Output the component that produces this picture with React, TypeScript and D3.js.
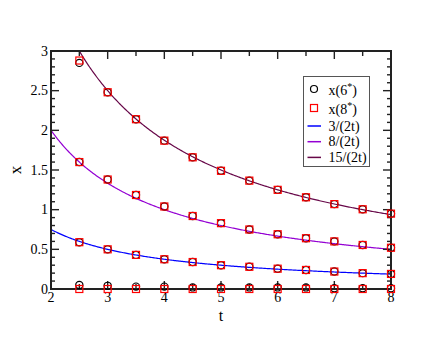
import React from 'react';
import * as d3 from 'd3';

// canvas
const width = 440;
const height = 340;

// plot frame
const left = 51;
const right = 391;
const top = 51;
const bottom = 289;

// data
const tValues = [2.5, 3, 3.5, 4, 4.5, 5, 5.5, 6, 6.5, 7, 7.5, 8];
const circZero = [0.05, 0.04, 0.03, 0.03, 0.02, 0.02, 0.02, 0.02, 0.02, 0.01, 0.01, 0.01];
const circLow = [0.59, 0.5, 0.43, 0.375, 0.34, 0.3, 0.28, 0.256, 0.24, 0.22, 0.2, 0.19];
const circMid = [1.6, 1.38, 1.185, 1.04, 0.92, 0.83, 0.75, 0.69, 0.64, 0.6, 0.555, 0.52];
const circHigh = [2.85, 2.48, 2.14, 1.87, 1.66, 1.49, 1.366, 1.25, 1.156, 1.07, 1.005, 0.95];
const sqZero = [0, 0, 0, 0, 0, 0, 0, 0, 0, 0, 0, 0];
const sqLow = [0.59, 0.5, 0.43, 0.375, 0.34, 0.3, 0.28, 0.256, 0.24, 0.22, 0.2, 0.19];
const sqMid = [1.6, 1.38, 1.185, 1.04, 0.92, 0.83, 0.75, 0.69, 0.64, 0.6, 0.555, 0.52];
const sqHigh = [2.88, 2.48, 2.14, 1.87, 1.66, 1.49, 1.366, 1.25, 1.156, 1.07, 1.005, 0.95];

// curves a/(2t)
const curveNumerators = [3, 8, 15];
const curveLabels = ['3/(2t)', '8/(2t)', '15/(2t)'];
const curveColors = ['#0000ff', '#9400d3', '#670748'];

const xTicks = [2, 3, 4, 5, 6, 7, 8];
const yTicks = [0, 0.5, 1, 1.5, 2, 2.5, 3];
const yTickLabels = ['0', '0.5', '1', '1.5', '2', '2.5', '3'];

const xScale = d3.scaleLinear().domain([2, 8]).range([left, right]);
const yScale = d3.scaleLinear().domain([0, 3]).range([bottom, top]);

const font = "'Times New Roman', 'Liberation Serif', serif";

const curveT = d3.range(2, 8.001, 0.02);
const lineGen = d3
  .line<number[]>()
  .x((d) => xScale(d[0]))
  .y((d) => yScale(d[1]));

const xMinor = d3.range(2, 8.001, 0.5);
const yMinor = d3.range(0, 3.001, 0.1);

const circleSeries = [circZero, circLow, circMid, circHigh];
const squareSeries = [sqZero, sqLow, sqMid, sqHigh];

const App = () => (
  <svg
    width={width}
    height={height}
    style={{ position: 'absolute', left: 0, top: 0, background: 'white' }}
  >
    <defs>
      <clipPath id="plotClip">
        <rect x={left} y={top} width={right - left} height={bottom - top} />
      </clipPath>
    </defs>

    {/* curves */}
    <g clipPath="url(#plotClip)">
      {curveNumerators.map((a, i) => (
        <path
          key={a}
          d={lineGen(curveT.map((t) => [t, a / (2 * t)])) || ''}
          fill="none"
          stroke={curveColors[i]}
          strokeWidth={1.2}
        />
      ))}
    </g>

    {/* frame */}
    <rect
      x={left}
      y={top}
      width={right - left}
      height={bottom - top}
      fill="none"
      stroke="#222"
      strokeWidth={2}
    />

    {/* x ticks */}
    {xMinor.map((t) => {
      const major = Number.isInteger(t);
      const len = major ? 8 : 5;
      return (
        <g key={'xt' + t} stroke="#222" strokeWidth={1.4}>
          <line x1={xScale(t)} x2={xScale(t)} y1={bottom} y2={bottom - len} />
          <line x1={xScale(t)} x2={xScale(t)} y1={top} y2={top + len} />
        </g>
      );
    })}
    {/* y ticks */}
    {yMinor.map((v, i) => {
      const major = i % 5 === 0;
      const len = major ? 8 : 4;
      return (
        <g key={'yt' + i} stroke="#222" strokeWidth={1.4}>
          <line x1={left} x2={left + len} y1={yScale(v)} y2={yScale(v)} />
          <line x1={right} x2={right - len} y1={yScale(v)} y2={yScale(v)} />
        </g>
      );
    })}

    {/* tick labels */}
    {xTicks.map((t) => (
      <text
        key={'xl' + t}
        x={xScale(t)}
        y={302}
        textAnchor="middle"
        fontFamily={font}
        fontSize={14}
      >
        {t}
      </text>
    ))}
    {yTicks.map((v, i) => (
      <text
        key={'yl' + v}
        x={48}
        y={yScale(v) + 4.5}
        textAnchor="end"
        fontFamily={font}
        fontSize={14}
      >
        {yTickLabels[i]}
      </text>
    ))}

    {/* axis labels */}
    <text x={221} y={321} textAnchor="middle" fontFamily={font} fontSize={16}>
      t
    </text>
    <text
      transform={`translate(21,${(top + bottom) / 2}) rotate(-90)`}
      textAnchor="middle"
      fontFamily={font}
      fontSize={17}
    >
      x
    </text>

    {/* markers */}
    {circleSeries.map((s, si) =>
      s.map((v, i) => (
        <circle
          key={'c' + si + '-' + i}
          cx={xScale(tValues[i])}
          cy={yScale(v)}
          r={3.6}
          fill="none"
          stroke="#000"
          strokeWidth={1.2}
        />
      ))
    )}
    {squareSeries.map((s, si) =>
      s.map((v, i) => (
        <rect
          key={'s' + si + '-' + i}
          x={xScale(tValues[i]) - 3.5}
          y={yScale(v) - 3.5}
          width={7}
          height={7}
          fill="none"
          stroke="#ff0000"
          strokeWidth={1.2}
        />
      ))
    )}

    {/* legend */}
    <g fontFamily={font} fontSize={14}>
      <rect x={303.5} y={76.5} width={66} height={90} fill="white" stroke="#555" strokeWidth={1} />
      <circle cx={314} cy={89} r={3.5} fill="none" stroke="#000" strokeWidth={1.2} />
      <text x={328.5} y={95}>
        x(6<tspan dy={-5} fontSize={10}>*</tspan>
        <tspan dy={5}>)</tspan>
      </text>
      <rect x={310.5} y={104.5} width={7} height={7} fill="none" stroke="#ff0000" strokeWidth={1.2} />
      <text x={328.5} y={114}>
        x(8<tspan dy={-5} fontSize={10}>*</tspan>
        <tspan dy={5}>)</tspan>
      </text>
      {curveLabels.map((label, i) => {
        const y = 126 + i * 15.7;
        return (
          <g key={label}>
            <line x1={307.5} x2={321} y1={y} y2={y} stroke={curveColors[i]} strokeWidth={1.5} />
            <text x={328.5} y={y + 4.5}>
              {label}
            </text>
          </g>
        );
      })}
    </g>
  </svg>
);

export default App;
